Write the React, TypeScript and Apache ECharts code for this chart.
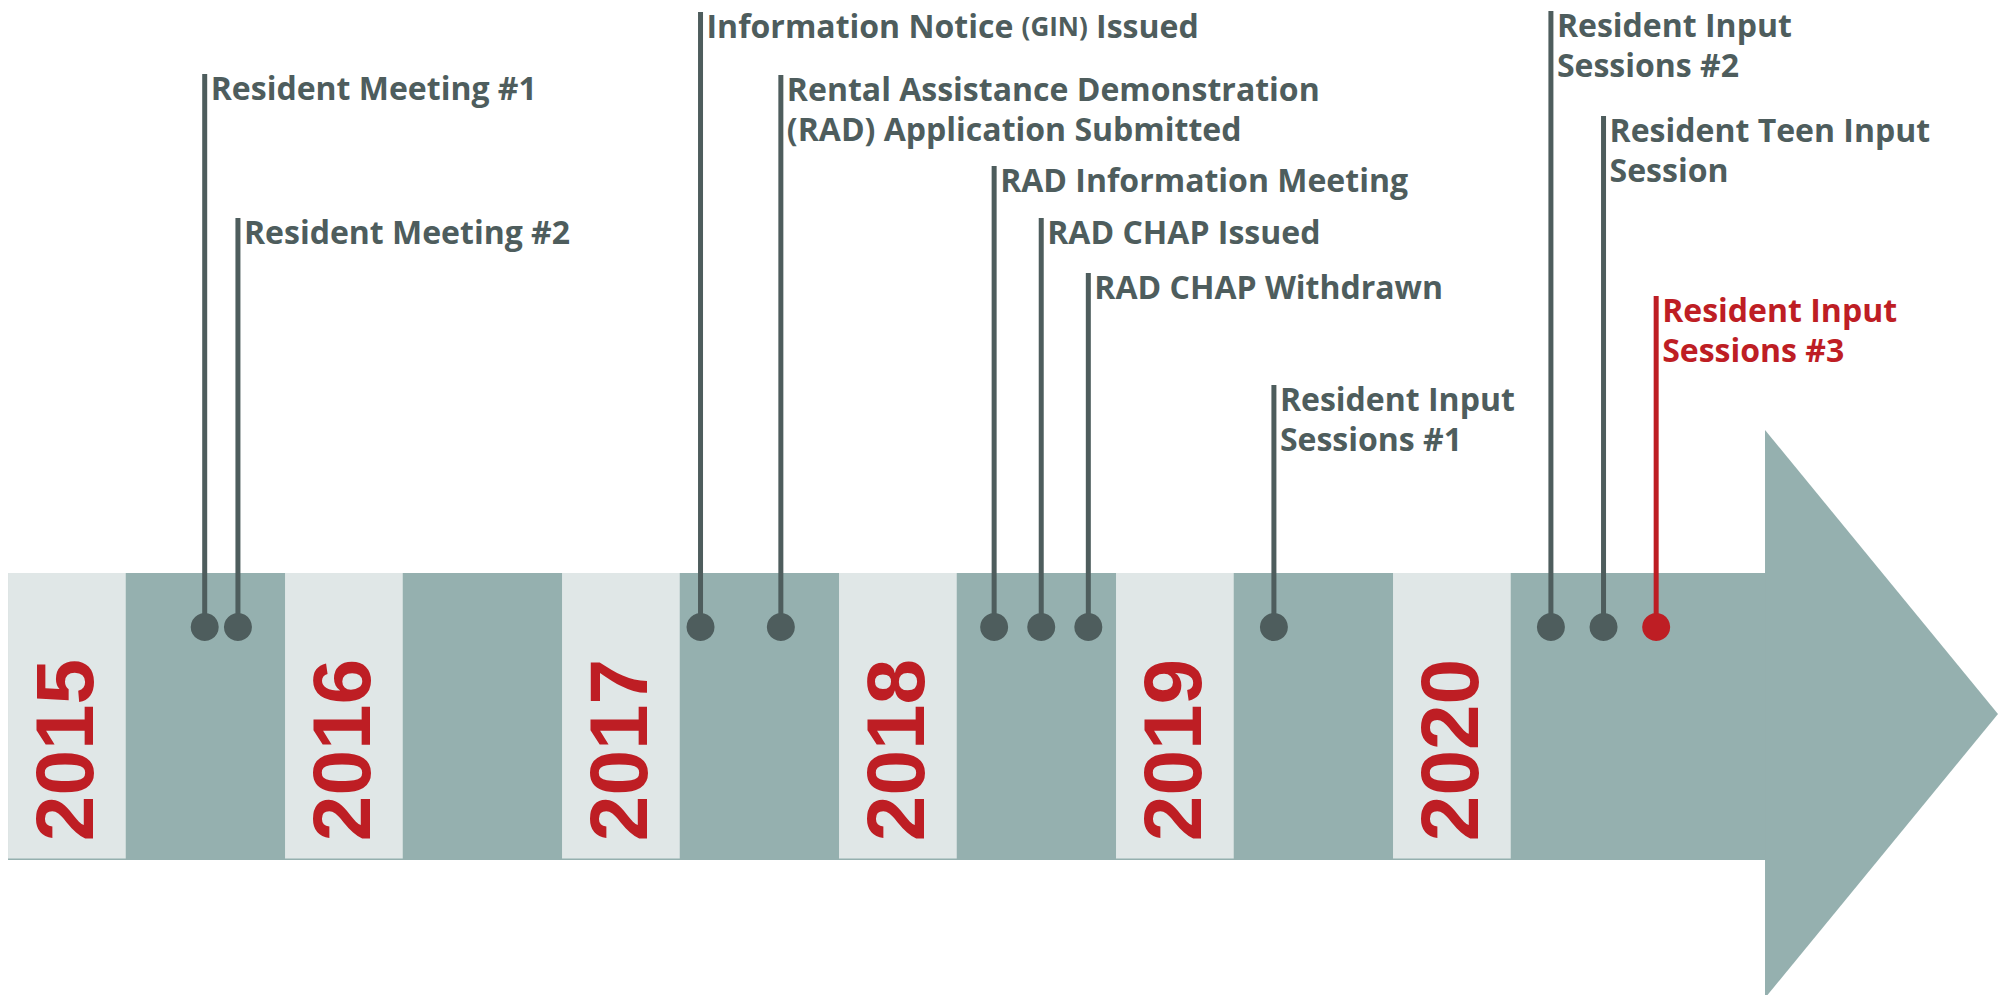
import React, { useEffect, useRef } from "react";
import * as echarts from "echarts";

// ---- data ----
const years = [2015, 2016, 2017, 2018, 2019, 2020];
const eventLabels = [
  "Resident Meeting #1",
  "Resident Meeting #2",
  "Information Notice {s|(GIN)} Issued",
  "Rental Assistance Demonstration\n(RAD) Application Submitted",
  "RAD Information Meeting",
  "RAD CHAP Issued",
  "RAD CHAP Withdrawn",
  "Resident Input\nSessions #1",
  "Resident Input\nSessions #2",
  "Resident Teen Input\nSession",
  "Resident Input\nSessions #3",
];
// position along the timeline (fractional year)
const eventTimes = [2015.71, 2015.83, 2017.5, 2017.79, 2018.56, 2018.73, 2018.9, 2019.57, 2020.57, 2020.76, 2020.95];
// height of each label stem above the timeline
const eventHeights = [553, 409, 615, 552, 461, 409, 354, 242, 616, 511, 331];
const eventHighlight = [false, false, false, false, false, false, false, false, false, false, true];

// ---- layout constants ----
const X_MIN = 2014.971;
const X_MAX = 2022.231;
const Y_MIN = -368;
const Y_MAX = 627;
const BAND_TOP = 54;
const BAND_BOTTOM = -232;
const LIGHT_WIDTH = 0.425;
const ARROW_BASE = 2021.343;
const ARROW_TIP = 2022.184;
const ARROW_TOP = 197;
const ARROW_TIP_Y = -87;
const ARROW_BOTTOM = -371;
const YEAR_LABEL_Y = -123;

const DARK = "#95b0af";
const LIGHT = "#e0e7e7";
const INK = "#4e5d5d";
const RED = "#be1e24";

export default function App() {
  const ref = useRef<HTMLDivElement>(null);
  useEffect(() => {
    document.body.style.margin = "0";
    if (!ref.current) return;
    const chart = echarts.init(ref.current, null, { renderer: "svg" });
    chart.setOption({
      animation: false,
      grid: { left: 0, right: 0, top: 0, bottom: 0 },
      xAxis: { type: "value", min: X_MIN, max: X_MAX, show: false },
      yAxis: { type: "value", min: Y_MIN, max: Y_MAX, show: false },
      series: [
        {
          type: "custom",
          clip: false,
          data: [[years[0], ARROW_BASE]],
          renderItem: (params: any, api: any) => {
            const p0 = api.coord([api.value(0), BAND_TOP]);
            const p1 = api.coord([api.value(1), BAND_BOTTOM - 1]);
            const a1 = api.coord([ARROW_BASE, ARROW_TOP]);
            const a2 = api.coord([ARROW_TIP, ARROW_TIP_Y]);
            const a3 = api.coord([ARROW_BASE, ARROW_BOTTOM]);
            return {
              type: "group",
              children: [
                {
                  type: "rect",
                  shape: { x: p0[0], y: p0[1], width: p1[0] - p0[0] + 1, height: p1[1] - p0[1] },
                  style: { fill: DARK },
                },
                {
                  type: "polygon",
                  shape: { points: [a1, a2, a3] },
                  style: { fill: DARK },
                },
              ],
            };
          },
        },
        {
          type: "custom",
          clip: false,
          data: years.map((y) => [y]),
          renderItem: (params: any, api: any) => {
            const y = api.value(0);
            const p0 = api.coord([y, BAND_TOP]);
            const p1 = api.coord([y + LIGHT_WIDTH, BAND_BOTTOM + 0.5]);
            const c = api.coord([y + LIGHT_WIDTH / 2, YEAR_LABEL_Y]);
            return {
              type: "group",
              children: [
                {
                  type: "rect",
                  shape: { x: p0[0], y: p0[1], width: p1[0] - p0[0], height: p1[1] - p0[1] },
                  style: { fill: LIGHT },
                },
                {
                  type: "text",
                  x: c[0] - 2,
                  y: c[1],
                  rotation: Math.PI / 2,
                  style: {
                    text: String(y),
                    fill: RED,
                    font: 'bold 82px "Liberation Sans", Arial, sans-serif',
                    align: "center",
                    verticalAlign: "middle",
                  },
                },
              ],
            };
          },
        },
        {
          type: "custom",
          clip: false,
          data: eventTimes.map((t, i) => [t, eventHeights[i], i]),
          renderItem: (params: any, api: any) => {
            const t = api.value(0);
            const h = api.value(1);
            const i = api.value(2);
            const color = eventHighlight[i] ? RED : INK;
            const top = api.coord([t, h]);
            const base = api.coord([t, 0]);
            return {
              type: "group",
              children: [
                {
                  type: "line",
                  shape: { x1: top[0], y1: top[1], x2: base[0], y2: base[1] },
                  style: { stroke: color, lineWidth: 5 },
                },
                {
                  type: "circle",
                  shape: { cx: base[0], cy: base[1], r: 14 },
                  style: { fill: color },
                },
                {
                  type: "text",
                  x: top[0] + 6,
                  y: top[1] - 6.5,
                  style: {
                    text: eventLabels[i],
                    fill: color,
                    fontFamily: '"Open Sans", sans-serif',
                    fontWeight: "bold",
                    fontSize: 32,
                    lineHeight: 40,
                    align: "left",
                    verticalAlign: "top",
                    rich: {
                      s: {
                        fill: color,
                        fontFamily: '"Open Sans", sans-serif',
                        fontWeight: "bold",
                        fontSize: 26,
                        lineHeight: 40,
                      },
                    },
                  },
                },
              ],
            };
          },
        },
      ],
    });
    return () => chart.dispose();
  }, []);
  return <div ref={ref} style={{ width: 2011, height: 995 }} />;
}
